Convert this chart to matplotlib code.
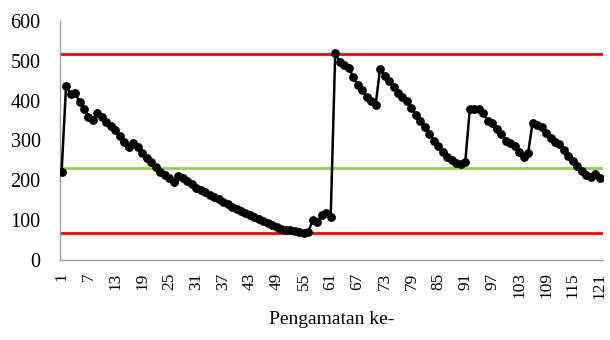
import numpy as np
import matplotlib
matplotlib.use("Agg")
import matplotlib.pyplot as plt

# nilai pengamatan
obs = [220, 437, 417, 418, 397, 378, 360, 352, 368, 360,
       346, 336, 326, 311, 297, 283, 293, 283, 268, 255,
       245, 233, 222, 213, 205, 196, 212, 205, 198, 190,
       182, 176, 170, 163, 157, 152, 146, 140, 134, 129,
       123, 117, 112, 107, 102, 97, 92, 87, 82, 78,
       76, 75, 74, 70, 67, 71, 100, 96, 113, 118,
       109, 519, 498, 490, 482, 460, 440, 428, 408, 398,
       388, 480, 462, 450, 435, 418, 410, 398, 382, 364,
       348, 333, 316, 300, 285, 270, 258, 250, 243, 240,
       247, 378, 380, 378, 368, 350, 345, 330, 316, 300,
       293, 285, 272, 258, 268, 345, 340, 333, 318, 306,
       297, 290, 275, 260, 248, 236, 224, 214, 209, 215,
       205]
ucl = 518
cl = 232
lcl = 69
xticks = list(range(1, 122, 6))

plt.rcParams['font.family'] = ['Liberation Serif', 'DejaVu Serif']

x = np.arange(1, len(obs) + 1)

fig = plt.figure(figsize=(6.1, 3.4), dpi=100)
ax = fig.add_axes([60/610, 1 - 260/340, 543/610, 239/340])

ax.axhline(ucl, color='#ff0000', lw=2, zorder=1)
ax.axhline(lcl, color='#ff0000', lw=2, zorder=1)
ax.axhline(cl, color='#92d050', lw=2, zorder=1)
ax.plot(x, obs, color='black', lw=1.8, marker='o', markersize=5.3, zorder=3)

ax.set_xlim(0.65, 121.7)
ax.set_ylim(0, 600)
ax.set_yticks(range(0, 601, 100))
ax.set_xticks(xticks)
ax.set_xticklabels([str(t) for t in xticks], rotation=90)
ax.tick_params(axis='both', length=0, colors='black')
ax.tick_params(axis='y', pad=14, labelsize=14.5)
ax.tick_params(axis='x', pad=9, labelsize=12.5)

for s in ['top', 'right']:
    ax.spines[s].set_visible(False)
for s in ['left', 'bottom']:
    ax.spines[s].set_color('#a0a0a0')
    ax.spines[s].set_linewidth(1)

ax.set_xlabel('Pengamatan ke-', fontsize=14, labelpad=9)

fig.savefig('out.png', dpi=100)
